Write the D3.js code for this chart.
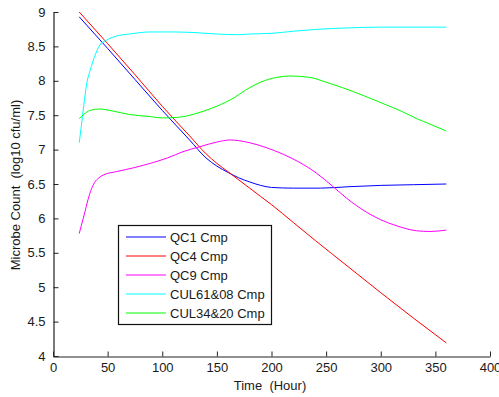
<!DOCTYPE html>
<html>
<head>
<meta charset="utf-8">
<script src="https://cdn.jsdelivr.net/npm/d3@7"></script>
<style>
  html, body { margin: 0; padding: 0; background: #fff; }
  svg { display: block; }
  text { font-family: "Liberation Sans", Arial, sans-serif; fill: #1a1a1a; }
</style>
</head>
<body>
<svg id="chart" width="499" height="397"></svg>
<script>
const seriesNames = ["QC1 Cmp", "QC4 Cmp", "QC9 Cmp", "CUL61&08 Cmp", "CUL34&20 Cmp"];
const seriesColors = ["#0000ff", "#ff0000", "#ff00ff", "#00ffff", "#00ff00"];

const qc1Hours = [24, 50, 75, 100, 125, 140, 150, 160, 170, 180, 190, 200, 220, 245, 270, 300, 330, 360];
const qc1Values = [8.93, 8.47, 8.02, 7.57, 7.14, 6.88, 6.76, 6.67, 6.59, 6.53, 6.48, 6.45, 6.44, 6.44, 6.46, 6.48, 6.49, 6.50];

const qc4Hours = [24, 50, 75, 100, 125, 140, 150, 160, 170, 180, 190, 200, 220, 240, 270, 300, 330, 360];
const qc4Values = [9.0, 8.54, 8.09, 7.63, 7.2, 6.94, 6.8, 6.68, 6.56, 6.44, 6.32, 6.2, 5.94, 5.68, 5.3, 4.92, 4.55, 4.19];

const qc9Hours = [24, 26, 29, 32, 35, 38, 42, 46, 58, 75, 89, 105, 119, 134, 150, 162, 170, 180, 195, 211, 225, 241, 255, 269, 287, 300, 315, 333, 345, 360];
const qc9Values = [5.78, 5.90, 6.08, 6.27, 6.42, 6.52, 6.59, 6.63, 6.68, 6.74, 6.80, 6.88, 6.97, 7.04, 7.11, 7.14, 7.13, 7.10, 7.03, 6.93, 6.82, 6.66, 6.48, 6.29, 6.09, 5.98, 5.89, 5.82, 5.81, 5.83];

const cul61Hours = [24, 26, 28, 31, 34, 38, 43, 50, 58, 70, 89, 110, 130, 150, 170, 180, 200, 220, 244, 272, 300, 360];
const cul61Values = [7.10, 7.35, 7.62, 7.97, 8.15, 8.35, 8.52, 8.60, 8.65, 8.68, 8.71, 8.71, 8.70, 8.68, 8.67, 8.68, 8.69, 8.72, 8.75, 8.77, 8.78, 8.78];

const cul34Hours = [24, 28, 34, 42, 55, 70, 89, 100, 115, 130, 145, 162, 180, 190, 205, 217, 235, 250, 265, 285, 302, 320, 333, 345, 360];
const cul34Values = [7.45, 7.51, 7.57, 7.59, 7.56, 7.51, 7.48, 7.46, 7.47, 7.52, 7.60, 7.72, 7.90, 7.98, 8.05, 8.07, 8.05, 7.98, 7.90, 7.78, 7.67, 7.55, 7.45, 7.37, 7.27];

const xTicks = [0, 50, 100, 150, 200, 250, 300, 350, 400];
const yTicks = [4, 4.5, 5, 5.5, 6, 6.5, 7, 7.5, 8, 8.5, 9];

const seriesHours = [qc1Hours, qc4Hours, qc9Hours, cul61Hours, cul34Hours];
const seriesValues = [qc1Values, qc4Values, qc9Values, cul61Values, cul34Values];

const svg = d3.select("#chart");
const x = d3.scaleLinear().domain([0, 400]).range([53, 490]);
const y = d3.scaleLinear().domain([4, 9]).range([356, 12]);

// Axes (ticks pointing inward)
const xAxis = d3.axisBottom(x).tickValues(xTicks).tickFormat(d3.format("d")).tickSizeInner(-5).tickSizeOuter(0).tickPadding(8);
const yAxis = d3.axisLeft(y).tickValues(yTicks).tickFormat(d => String(d)).tickSizeInner(-5).tickSizeOuter(0).tickPadding(8);

const gx = svg.append("g").attr("transform", "translate(0,356.5)").call(xAxis);
const gy = svg.append("g").attr("transform", "translate(53.5,0)").call(yAxis);
[gx, gy].forEach(g => {
  g.selectAll("path.domain").attr("stroke", "#222").attr("stroke-width", 1.2);
  g.selectAll(".tick line").attr("stroke", "#222");
  g.selectAll(".tick text").style("font-family", "'Liberation Sans', Arial, sans-serif").style("font-size", "13px").attr("fill", "#1a1a1a");
});
gx.selectAll(".tick text").attr("dy", "0.71em").attr("y", 6);

// Lines
const line = d3.line().x(d => x(d[0])).y(d => y(d[1])).curve(d3.curveMonotoneX);
seriesNames.forEach((name, i) => {
  const pts = seriesHours[i].map((h, j) => [h, seriesValues[i][j]]);
  svg.append("path")
    .datum(pts)
    .attr("fill", "none")
    .attr("stroke", seriesColors[i])
    .attr("stroke-width", 1)
    .attr("d", line);
});

// Axis labels
svg.append("text")
  .attr("x", 270).attr("y", 390)
  .attr("text-anchor", "middle")
  .style("font-size", "13px")
  .style("white-space", "pre")
  .text("Time  (Hour)");

svg.append("text")
  .attr("transform", "translate(20,185) rotate(-90)")
  .attr("text-anchor", "middle")
  .style("font-size", "13px")
  .style("white-space", "pre")
  .text("Microbe Count  (log10 cfu/ml)");

// Legend
const legend = svg.append("g");
legend.append("rect")
  .attr("x", 118.5).attr("y", 225.5)
  .attr("width", 153).attr("height", 99)
  .attr("fill", "#fff").attr("stroke", "#111").attr("stroke-width", 1.2);
seriesNames.forEach((name, i) => {
  const cy = 237 + i * 19;
  legend.append("line")
    .attr("x1", 126).attr("x2", 166)
    .attr("y1", cy).attr("y2", cy)
    .attr("stroke", seriesColors[i]).attr("stroke-width", 1);
  legend.append("text")
    .attr("x", 170).attr("y", cy + 4.5)
    .style("font-size", "13px")
    .text(name);
});
</script>
</body>
</html>
